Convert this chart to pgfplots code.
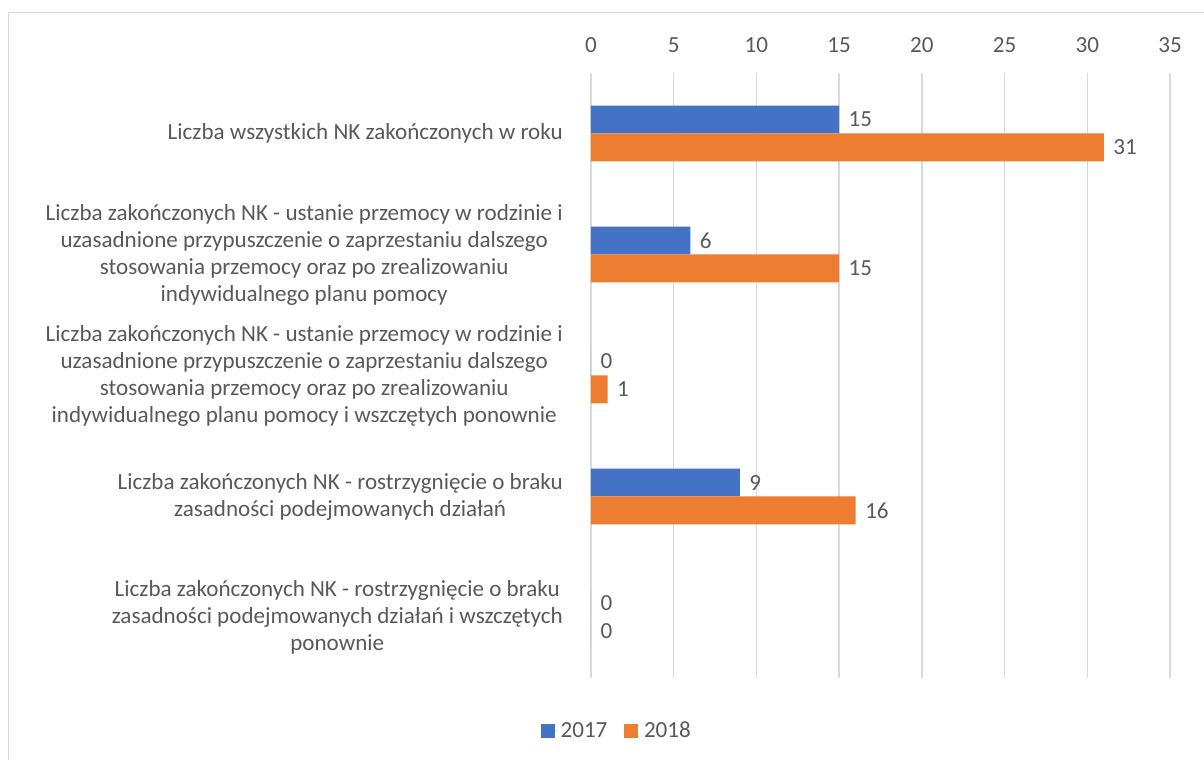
\documentclass[border=0pt]{standalone}
\usepackage{fontspec}
\setmainfont{Carlito}
\usepackage{pgfplots}
\pgfplotsset{compat=1.18}
\definecolor{c2017}{HTML}{4472C4}
\definecolor{c2018}{HTML}{ED7D31}
\definecolor{txt}{HTML}{595959}
\definecolor{grd}{HTML}{D9D9D9}
\newcommand{\lf}{\fontsize{17.3}{20.25}\selectfont}
\begin{document}
\begin{tikzpicture}[x=0.75pt,y=0.75pt]
\path[use as bounding box] (0,0) rectangle (1204,760);
\draw[grd, line width=1.2pt] (8.5,747.5) rectangle (1240,-30);
\begin{axis}[
  at={(443.25pt,515.25pt)}, anchor=north west,
  scale only axis, width=434.25pt, height=453.75pt,
  xbar, y dir=reverse,
  xmin=0, xmax=35, ymin=-0.5, ymax=4.5,
  xtick={0,5,...,35}, ytick={0,1,2,3,4},
  xticklabel pos=upper,
  axis line style={draw=none},
  major tick length=0pt,
  xmajorgrids, grid style={grd, line width=1.1pt},
  /pgf/number format/assume math mode=true,
  xticklabel style={font=\lf, text=txt, anchor=center, yshift=21pt},
  yticklabel style={font=\lf, text=txt, align=center, anchor=east, inner sep=0pt, xshift=-21pt},
  yticklabels={
    {Liczba wszystkich NK zakończonych w roku},
    {Liczba zakończonych NK - ustanie przemocy w rodzinie i\\uzasadnione przypuszczenie o zaprzestaniu dalszego\\stosowania przemocy oraz po zrealizowaniu\\indywidualnego planu pomocy},
    {Liczba zakończonych NK - ustanie przemocy w rodzinie i\\uzasadnione przypuszczenie o zaprzestaniu dalszego\\stosowania przemocy oraz po zrealizowaniu\\indywidualnego planu pomocy i wszczętych ponownie},
    {Liczba zakończonych NK - rostrzygnięcie o braku\\zasadności podejmowanych działań},
    {Liczba zakończonych NK - rostrzygnięcie o braku\\zasadności podejmowanych działań i wszczętych\\ponownie}
  },
  bar width=0.23,
  nodes near coords,
  nodes near coords style={font=\lf, text=txt, anchor=west, inner sep=0pt, xshift=7pt},
  legend style={at={(0.045,-0.0876)}, anchor=center, draw=none, fill=none,
    legend columns=2, font=\lf, text=txt,
    /tikz/every even column/.append style={column sep=10.5pt}},
  legend image code/.code={\fill[#1] (0pt,-5.25pt) rectangle (10.5pt,5.25pt); \path (0pt,0pt) -- (13pt,0pt);},
]
\addplot[fill=c2017, draw=none, bar shift=-0.115] coordinates {(15,0) (6,1) (0,2) (9,3) (0,4)};
\addplot[fill=c2018, draw=none, bar shift=0.115] coordinates {(31,0) (15,1) (1,2) (16,3) (0,4)};
\legend{2017,2018}
\end{axis}
\end{tikzpicture}
\end{document}
